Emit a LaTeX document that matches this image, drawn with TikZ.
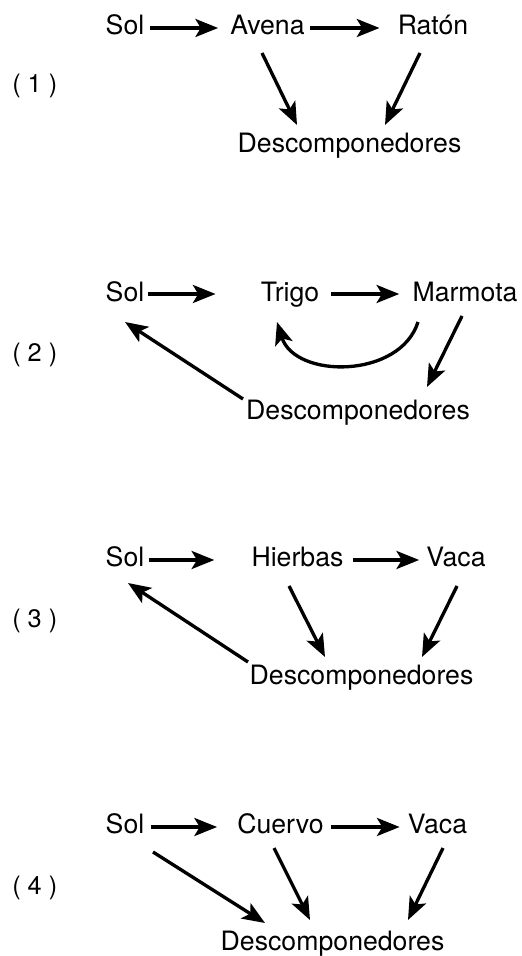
\documentclass[tikz,border=0pt]{standalone}
\usepackage{fontspec}
\setmainfont{TeX Gyre Heros}
\usetikzlibrary{arrows.meta}

\tikzset{
    word/.style={inner sep=0pt, anchor=base, font=\fontsize{20pt}{24pt}\selectfont},
    tag/.style={inner sep=0pt, anchor=base west, font=\fontsize{19pt}{23pt}\selectfont},
    arr/.style={line width=2.5pt, -{Stealth[length=17pt, width=13.5pt, inset=4pt]}}
}

\begin{document}
\begin{tikzpicture}[x=0.75pt, y=0.75pt]
    \useasboundingbox (0,0) rectangle (521,956);

    % (1)
    \node[tag] (lab1) at (12,863) {( 1 )};
    \node[word] (sol1) at (125,921) {Sol};
    \node[word] (avena1) at (267.5,921) {Avena};
    \node[word] (raton1) at (433,921) {Ratón};
    \node[word] (desc1) at (349.5,803) {Descomponedores};
    \draw[arr] ([shift={(5,7)}]sol1.base east) -- ([shift={(-12,7)}]avena1.base west);
    \draw[arr] ([shift={(5,7)}]avena1.base east) -- ([shift={(-18,7)}]raton1.base west);
    \draw[arr] ([shift={(-5.5,-18)}]avena1.base) -- ([shift={(-52.5,28)}]desc1.base);
    \draw[arr] ([shift={(-13,-18)}]raton1.base) -- ([shift={(35.5,28)}]desc1.base);

    % (2)
    \node[tag] (lab2) at (12,594) {( 2 )};
    \node[word] (sol2) at (125,654) {Sol};
    \node[word] (trigo2) at (290,654) {Trigo};
    \node[word] (marmota2) at (465,654) {Marmota};
    \node[word] (desc2) at (358,536) {Descomponedores};
    \draw[arr] ([shift={(3,8)}]sol2.base east) -- ([shift={(-45,8)}]trigo2.base west);
    \draw[arr] ([shift={(12,8)}]trigo2.base east) -- ([shift={(-13,8)}]marmota2.base west);
    \draw[arr] ([shift={(-3,-14)}]marmota2.base) -- ([shift={(69,33)}]desc2.base);
    \draw[arr] ([shift={(-47,-20)}]marmota2.base) .. controls (400,577) and (295,577) .. ([shift={(-13,-20)}]trigo2.base);
    \draw[arr] ([shift={(-115,21)}]desc2.base) -- ([shift={(0,-20)}]sol2.base);

    % (3)
    \node[tag] (lab3) at (12,328) {( 3 )};
    \node[word] (sol3) at (125,389) {Sol};
    \node[word] (hierbas3) at (297.5,389) {Hierbas};
    \node[word] (vaca3) at (456,389) {Vaca};
    \node[word] (desc3) at (361.5,271) {Descomponedores};
    \draw[arr] ([shift={(4,7)}]sol3.base east) -- ([shift={(-37,7)}]hierbas3.base west);
    \draw[arr] ([shift={(9,7)}]hierbas3.base east) -- ([shift={(-7,7)}]vaca3.base west);
    \draw[arr] ([shift={(-8.5,-19)}]hierbas3.base) -- ([shift={(-36.5,28)}]desc3.base);
    \draw[arr] ([shift={(1,-19)}]vaca3.base) -- ([shift={(60.5,28)}]desc3.base);
    \draw[arr] ([shift={(-113.5,23)}]desc3.base) -- ([shift={(3,-16)}]sol3.base);

    % (4)
    \node[tag] (lab4) at (12,61) {( 4 )};
    \node[word] (sol4) at (125,122) {Sol};
    \node[word] (cuervo4) at (280.5,122) {Cuervo};
    \node[word] (vaca4) at (437.5,122) {Vaca};
    \node[word] (desc4) at (332.5,6) {Descomponedores};
    \draw[arr] ([shift={(6,7)}]sol4.base east) -- ([shift={(-20,7)}]cuervo4.base west);
    \draw[arr] ([shift={(7,7)}]cuervo4.base east) -- ([shift={(-8,7)}]vaca4.base west);
    \draw[arr] ([shift={(-6.5,-14)}]cuervo4.base) -- ([shift={(-22.5,30)}]desc4.base);
    \draw[arr] ([shift={(5.5,-14)}]vaca4.base) -- ([shift={(75.5,30)}]desc4.base);
    \draw[arr] ([shift={(28,-18)}]sol4.base) -- ([shift={(-67.5,27)}]desc4.base);
\end{tikzpicture}
\end{document}
